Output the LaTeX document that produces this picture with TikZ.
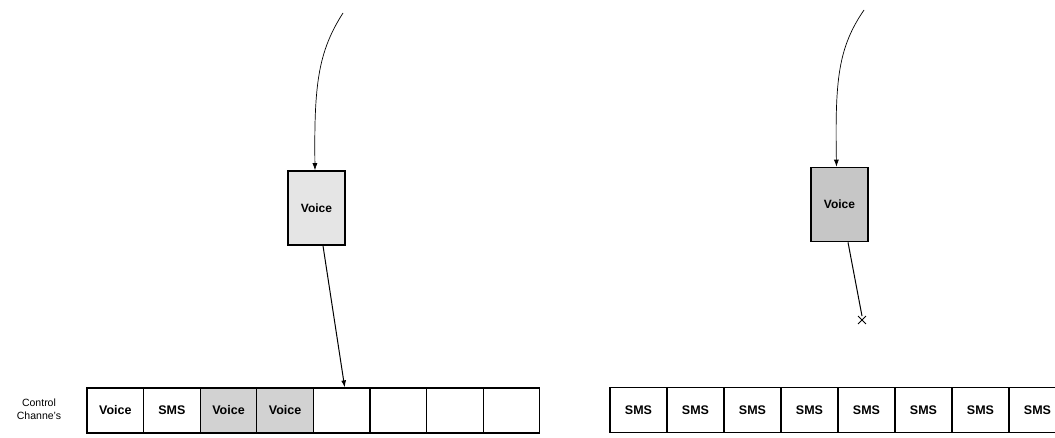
\documentclass[tikz,border=0pt]{standalone}
\usepackage{fontspec}
\setmainfont{Liberation Sans}
\usetikzlibrary{arrows.meta,shapes.misc}

\tikzset{
  slot/.style={draw, line width=1.2pt, minimum width=56.6pt, minimum height=45pt,
    inner sep=0pt, font=\fontsize{12.5}{12.5}\selectfont\bfseries},
  msgbox/.style={draw, line width=1.6pt, minimum width=57pt, minimum height=74pt,
    inner sep=0pt, font=\fontsize{12}{12}\selectfont\bfseries},
  route/.style={line width=0.7pt, -{Latex[length=7pt,width=5pt]}},
}

\begin{document}
\begin{tikzpicture}[x=1pt,y=-1pt]
  \useasboundingbox (0,0) rectangle (1055,438);
  \clip (0,0) rectangle (1055,438);

  % Label
  \node[align=center, font=\fontsize{10.5}{13}\selectfont] (ctrl) at (39,409) {Control\\Channe's};

  % Left channel row
  \node[slot] (L1) at (115.3,410.5) {Voice};
  \node[slot] (L2) at (171.9,410.5) {SMS};
  \node[slot, fill=gray!35] (L3) at (228.5,410.5) {Voice};
  \node[slot, fill=gray!35] (L4) at (285.1,410.5) {Voice};
  \foreach \i in {5,...,8}
    \node[slot] (L\i) at (115.3+56.6*\i-56.6,410.5) {};

  % Right channel row
  \foreach \i in {1,...,8}
    \node[slot, minimum width=57pt] (R\i) at (638.5+57*\i-57,410) {SMS};

  % Voice requests
  \node[msgbox, fill=gray!20] (lvoice) at (316.5,208) {Voice};
  \node[msgbox, fill=gray!45] (rvoice) at (839.5,204.5) {Voice};

  \coordinate (lsrc) at (343,13);
  \coordinate (rsrc) at (864,10);
  \node[cross out, draw, line width=0.9pt, minimum size=7pt, inner sep=0pt] (block) at (862,320) {};

  % Connectors
  \draw[route] (lsrc) .. controls (318,52) and (314,85) .. ([xshift=-1.5pt]lvoice.north);
  \draw[route] (rsrc) .. controls (838,48) and (835,80) .. ([xshift=-3pt]rvoice.north);
  \draw[route, line width=1pt] ([xshift=6.5pt]lvoice.south) -- ([xshift=3pt]L5.north);
  \draw[line width=1pt] ([xshift=8.5pt]rvoice.south) -- (block.north);
\end{tikzpicture}
\end{document}
